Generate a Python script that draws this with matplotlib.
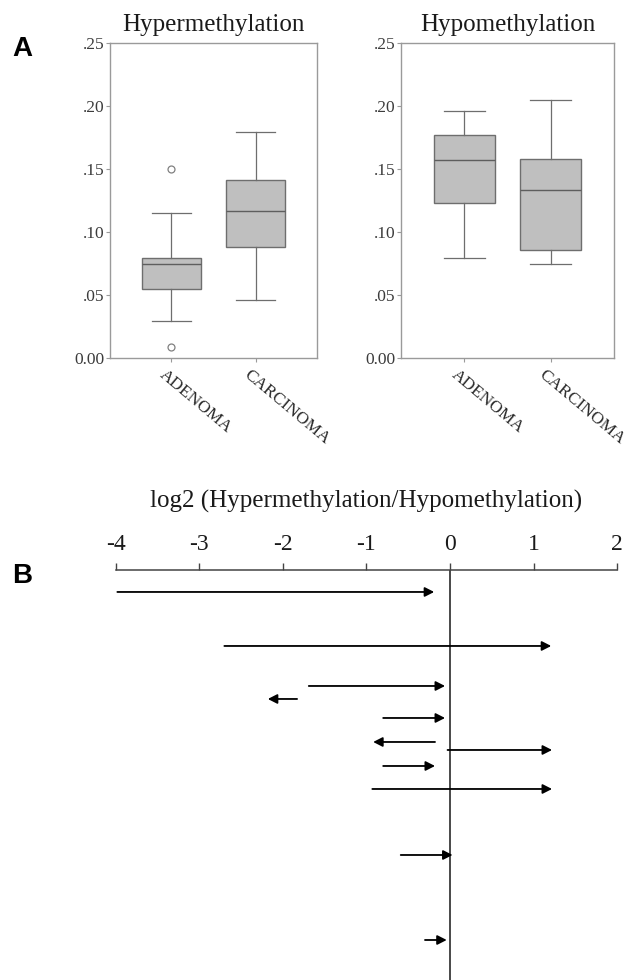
import numpy as np
import matplotlib.pyplot as plt

plt.rcParams['font.family'] = ['Liberation Serif', 'DejaVu Serif']

# box plot summaries
groups = ['ADENOMA', 'CARCINOMA']
hyper_low = [0.029, 0.046]
hyper_q1 = [0.055, 0.088]
hyper_med = [0.075, 0.117]
hyper_q3 = [0.079, 0.141]
hyper_high = [0.115, 0.179]
hyper_fliers = [[0.150, 0.0085], []]

hypo_low = [0.0795, 0.075]
hypo_q1 = [0.123, 0.0855]
hypo_med = [0.157, 0.133]
hypo_q3 = [0.177, 0.158]
hypo_high = [0.196, 0.2045]
hypo_fliers = [[], []]

yticks = [0.0, 0.05, 0.10, 0.15, 0.20, 0.25]
ytick_labels = ['0.00', '.05', '.10', '.15', '.20', '.25']

# log2 ratio arrows: start, end, row position
arrow_start = [-3.98, -2.70, -1.69, -1.83, -0.80, -0.18, -0.03, -0.80, -0.93, -0.59, -0.30]
arrow_end = [-0.19, 1.21, -0.06, -2.18, -0.06, -0.92, 1.22, -0.18, 1.22, 0.03, -0.04]
arrow_row = [2.2, 7.6, 11.6, 12.9, 14.8, 17.2, 18.0, 19.6, 21.9, 28.5, 37.0]
log_ticks = [-4, -3, -2, -1, 0, 1, 2]

fig = plt.figure(figsize=(6.37, 9.8), dpi=100)

def boxpanel(rect, title, low, q1, med, q3, high, fliers):
    ax = fig.add_axes(rect)
    stats = []
    for i in range(len(groups)):
        stats.append(dict(whislo=low[i], q1=q1[i], med=med[i], q3=q3[i],
                          whishi=high[i], fliers=fliers[i], label=groups[i]))
    ax.bxp(stats, positions=[1, 2], widths=0.70, capwidths=0.47,
           patch_artist=True, showfliers=True,
           boxprops=dict(facecolor='#bfbfbf', edgecolor='#6e6e6e', linewidth=1.0),
           medianprops=dict(color='#5e5e5e', linewidth=1.0),
           whiskerprops=dict(color='#6e6e6e', linewidth=0.9),
           capprops=dict(color='#6e6e6e', linewidth=0.9),
           flierprops=dict(marker='o', markersize=5, markerfacecolor='none',
                           markeredgecolor='#808080', markeredgewidth=0.9))
    ax.set_xlim(0.27, 2.73)
    ax.set_ylim(0, 0.25)
    ax.set_yticks(yticks)
    ax.set_yticklabels(ytick_labels)
    ax.set_xticks([1, 2])
    ax.set_xticklabels([])
    for s in ax.spines.values():
        s.set_color('#9a9a9a')
        s.set_linewidth(1.0)
    ax.tick_params(axis='both', colors='#9a9a9a', length=3, width=0.8,
                   labelcolor='#3c3c3c', labelsize=12.5, pad=1)
    for i, g in enumerate(groups):
        ax.text(i + 1 - 0.12, -0.012, g, rotation=-40, rotation_mode='anchor',
                ha='left', va='center', fontsize=12.5, color='#2a2a2a')
    ax.set_title(title, fontsize=18, pad=9, color='#1a1a1a')
    return ax

boxpanel([0.1727, 0.6347, 0.325, 0.3214], 'Hypermethylation',
         hyper_low, hyper_q1, hyper_med, hyper_q3, hyper_high, hyper_fliers)
boxpanel([0.6295, 0.6347, 0.3344, 0.3214], 'Hypomethylation',
         hypo_low, hypo_q1, hypo_med, hypo_q3, hypo_high, hypo_fliers)

# arrow panel
ax3 = fig.add_axes([0.1816, 0.0, 0.7874, 0.4184])
ax3.set_xlim(-4, 2)
ax3.set_ylim(41, 0)
ax3.axvline(0, color='#3a3a3a', linewidth=1.3)
for x0, x1, y in zip(arrow_start, arrow_end, arrow_row):
    ax3.annotate('', xy=(x1, y), xytext=(x0, y),
                 arrowprops=dict(arrowstyle='-|>,head_length=0.55,head_width=0.28',
                                 color='black', linewidth=1.3,
                                 shrinkA=0, shrinkB=0, mutation_scale=10))
ax3.xaxis.tick_top()
ax3.set_xticks(log_ticks)
ax3.set_xticklabels([str(t) for t in log_ticks])
ax3.set_yticks([])
for k in ['left', 'right', 'bottom']:
    ax3.spines[k].set_visible(False)
ax3.spines['top'].set_color('#444444')
ax3.spines['top'].set_linewidth(1.1)
ax3.tick_params(axis='x', direction='out', length=5, width=1.0, colors='#444444',
                labelcolor='#1a1a1a', labelsize=17, pad=6)
ax3.set_title('log2 (Hypermethylation/Hypomethylation)', fontsize=18, pad=45,
              color='#1a1a1a')

fig.text(0.035, 0.950, 'A', fontsize=20, fontweight='bold',
         family='Liberation Sans', ha='center', va='center')
fig.text(0.035, 0.412, 'B', fontsize=20, fontweight='bold',
         family='Liberation Sans', ha='center', va='center')

fig.savefig('out.png', dpi=100)
